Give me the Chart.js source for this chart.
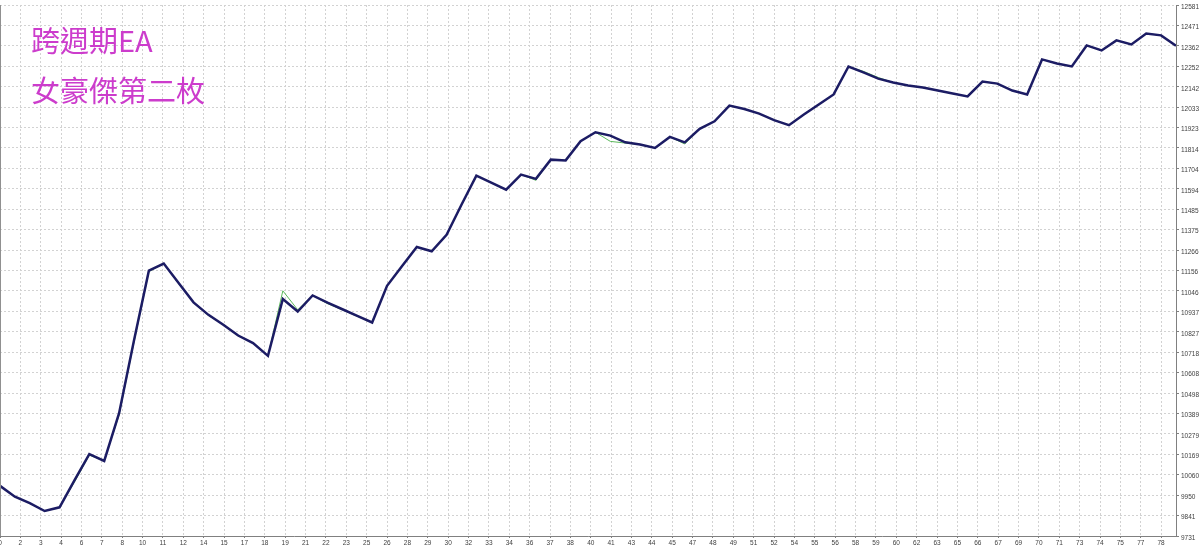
<!DOCTYPE html>
<html>
<head>
<meta charset="utf-8">
<script src="https://cdn.jsdelivr.net/npm/chart.js@4.4.1/dist/chart.umd.min.js"></script>
<style>
  html, body { margin: 0; padding: 0; background: #fff; }
  #wrap { position: relative; width: 1200px; height: 548px; }
  .tag {
    position: absolute; left: 31px;
    font-family: "Noto Sans CJK TC", "Noto Sans CJK SC", sans-serif;
    font-size: 29px; line-height: 29px; color: #cc3ccc; white-space: nowrap;
  }
</style>
</head>
<body>
<div id="wrap">
  <canvas id="c"></canvas>
  <div class="tag" style="top:25px">跨週期EA</div>
  <div class="tag" style="top:75px">女豪傑第二枚</div>
</div>
<script>
// balance per trade (navy line)
const balance = [
  10000, 9942, 9907, 9865, 9885, 10030, 10170, 10134, 10390, 10780,
  11155, 11193, 11089, 10985, 10918, 10865, 10807, 10766, 10698, 11003,
  10936, 11022, 10983, 10948, 10913, 10877, 11074, 11179, 11282, 11259,
  11348, 11509, 11665, 11628, 11590, 11671, 11648, 11751, 11747, 11850,
  11898, 11880, 11844, 11832, 11814, 11873, 11844, 11916, 11957, 12041,
  12023, 11998, 11963, 11936, 11993, 12047, 12101, 12251, 12219, 12186,
  12165, 12149, 12138, 12122, 12106, 12090, 12170, 12159, 12122, 12101,
  12289, 12267, 12251, 12364, 12337, 12391, 12369, 12428, 12418, 12362
];
// equity (thin green line), mostly hidden under balance
const equity = [
  10000, 9942, 9907, 9865, 9885, 10020, 10165, 10134, 10380, 10770,
  11150, 11193, 11085, 10985, 10915, 10865, 10805, 10766, 10698, 11047,
  10945, 11022, 10978, 10945, 10910, 10877, 11074, 11179, 11282, 11259,
  11348, 11509, 11665, 11628, 11590, 11671, 11640, 11751, 11747, 11850,
  11898, 11849, 11840, 11832, 11814, 11873, 11835, 11916, 11957, 12041,
  12023, 11998, 11963, 11936, 11993, 12047, 12101, 12251, 12225, 12192,
  12165, 12149, 12138, 12122, 12106, 12090, 12170, 12159, 12122, 12101,
  12289, 12267, 12251, 12364, 12337, 12391, 12369, 12428, 12418, 12362
];
const xTickLabels = [
  0, 2, 3, 4, 6, 7, 8, 10, 11, 12, 14, 15, 17, 18, 19, 21, 22, 23, 25, 26,
  28, 29, 30, 32, 33, 34, 36, 37, 38, 40, 41, 43, 44, 45, 47, 48, 49, 51, 52, 54,
  55, 56, 58, 59, 60, 62, 63, 65, 66, 67, 69, 70, 71, 73, 74, 75, 77, 78
];
const yTicks = [
  9731, 9841, 9950, 10060, 10169, 10279, 10389, 10498, 10608, 10718,
  10827, 10937, 11046, 11156, 11266, 11375, 11485, 11594, 11704, 11814,
  11923, 12033, 12142, 12252, 12362, 12471, 12581
];
const trades = balance.map((_, i) => i);

const tickFont = { family: 'Liberation Sans', size: 6.5 };
const gridColor = '#d2d2d2';

// solid frame line on the left edge of the plot
const leftEdge = {
  id: 'leftEdge',
  afterDraw(chart) {
    const { ctx, chartArea } = chart;
    ctx.save();
    ctx.strokeStyle = '#909090';
    ctx.lineWidth = 1;
    ctx.beginPath();
    ctx.moveTo(chartArea.left + 0.5, chartArea.top);
    ctx.lineTo(chartArea.left + 0.5, chartArea.bottom);
    ctx.stroke();
    ctx.restore();
  }
};

new Chart(document.getElementById('c'), {
  type: 'line',
  data: {
    labels: trades,
    datasets: [
      { label: 'Balance', data: balance, borderColor: '#1c1c64', borderWidth: 2.5, pointRadius: 0, tension: 0 },
      { label: 'Equity', data: equity, borderColor: '#5cb85c', borderWidth: 1, pointRadius: 0, tension: 0 }
    ]
  },
  options: {
    responsive: true,
    maintainAspectRatio: false,
    animation: false,
    devicePixelRatio: 1,
    layout: { padding: { top: 5, left: 0, right: 0, bottom: 0 } },
    plugins: { legend: { display: false }, tooltip: { enabled: false } },
    scales: {
      x: {
        type: 'linear',
        min: 0,
        max: trades[trades.length - 1],
        afterBuildTicks: axis => {
          axis.ticks = xTickLabels.map((_, i) => ({ value: i * 78 / (xTickLabels.length - 1) }));
        },
        afterFit: axis => { axis.height = 12; axis.paddingLeft = 0; axis.paddingRight = 0; },
        ticks: {
          autoSkip: false, maxRotation: 0, padding: 1, color: '#404040', font: tickFont,
          callback: (v, i) => xTickLabels[i]
        },
        grid: { color: gridColor, tickLength: 2, tickColor: '#808080' },
        border: { color: '#808080', dash: [2, 2] }
      },
      y: {
        position: 'right',
        min: yTicks[0],
        max: yTicks[yTicks.length - 1],
        afterBuildTicks: axis => { axis.ticks = yTicks.map(v => ({ value: v })); },
        afterFit: axis => { axis.width = 24; axis.paddingTop = 0; axis.paddingBottom = 0; },
        ticks: { padding: 2, color: '#404040', font: tickFont, labelOffset: 2, callback: v => String(v) },
        grid: { color: gridColor, tickLength: 3, tickColor: '#808080' },
        border: { color: '#808080', dash: [2, 2] }
      }
    }
  },
  plugins: [leftEdge]
});
</script>
</body>
</html>
